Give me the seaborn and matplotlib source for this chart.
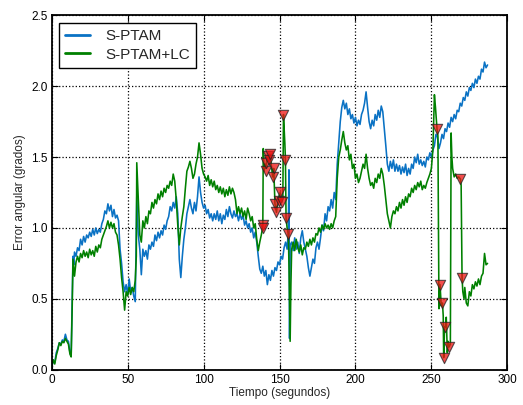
import numpy as np
import pandas as pd
import matplotlib
matplotlib.use("Agg")
import matplotlib.pyplot as plt
import seaborn as sns

# S-PTAM angular error (degrees) over time (seconds)
sptam_t = [0, 1, 2, 3, 4, 5, 6, 7, 8, 9, 10, 11, 12, 12.8, 13.5, 14, 14.5, 15, 16, 17, 18, 19, 20,
           21, 22, 23, 24, 25, 26, 27, 28, 29, 30, 31, 32, 33, 34, 35, 36, 37, 38, 39, 40, 41, 42,
           43, 44, 45, 46, 47, 48, 49, 50, 51, 52, 53, 54, 55, 56, 57, 58, 59, 60, 61, 62, 63, 64,
           65, 66, 67, 68, 69, 70, 71, 72, 73, 74, 75, 76, 77, 78, 79, 80, 81, 82, 83, 84, 85, 86,
           87, 88, 89, 90, 91, 92, 93, 94, 95, 96, 97, 98, 99, 100, 101, 102, 103, 104, 105, 106,
           107, 108, 109, 110, 111, 112, 113, 114, 115, 116, 117, 118, 119, 120, 121, 122, 123,
           124, 125, 126, 127, 128, 129, 130, 131, 132, 133, 134, 135, 136, 137, 138, 139, 140,
           141, 142, 143, 144, 145, 146, 147, 148, 149, 150, 151, 152, 153, 154, 155, 155.8,
           156.2, 156.6, 157, 158, 159, 160, 161, 162, 163, 164, 165, 166, 167, 168, 169, 170,
           171, 172, 173, 174, 175, 176, 177, 178, 179, 180, 181, 182, 183, 184, 185, 186, 187,
           188, 189, 190, 191, 192, 193, 194, 195, 196, 197, 198, 199, 200, 201, 202, 203, 204,
           205, 206, 207, 208, 209, 210, 211, 212, 213, 214, 215, 216, 217, 218, 219, 220, 221,
           222, 223, 224, 225, 226, 227, 228, 229, 230, 231, 232, 233, 234, 235, 236, 237, 238,
           239, 240, 241, 242, 243, 244, 245, 246, 247, 248, 249, 250, 251, 252, 253, 254, 255,
           256, 257, 258, 259, 260, 261, 262, 263, 264, 265, 266, 267, 268, 269, 270, 271, 272,
           273, 274, 275, 276, 277, 278, 279, 280, 281, 282, 283, 284, 285, 286, 287]
sptam_err = [0.02, 0.06, 0.05, 0.12, 0.15, 0.19, 0.18, 0.21, 0.20, 0.25, 0.21, 0.20, 0.12, 0.10,
             0.50, 0.80, 0.74, 0.83, 0.80, 0.86, 0.84, 0.92, 0.88, 0.94, 0.90, 0.95, 0.93, 0.97,
             0.94, 0.99, 0.95, 1.00, 0.96, 0.99, 0.97, 1.03, 1.06, 1.12, 1.10, 1.17, 1.12, 1.16,
             1.08, 1.13, 1.07, 1.09, 1.05, 0.85, 0.75, 0.62, 0.55, 0.60, 0.53, 0.64, 0.55, 0.58,
             0.52, 0.48, 1.22, 0.95, 0.85, 0.67, 0.85, 0.80, 0.84, 0.78, 0.88, 0.85, 0.90, 0.87,
             0.95, 0.91, 0.97, 0.93, 0.98, 0.95, 1.02, 0.99, 1.05, 1.08, 1.15, 1.12, 1.18, 1.14,
             1.22, 1.10, 0.78, 0.65, 0.80, 0.92, 1.00, 1.10, 1.15, 1.20, 1.14, 1.10, 1.18, 1.12,
             1.22, 1.36, 1.25, 1.18, 1.14, 1.16, 1.10, 1.13, 1.07, 1.10, 1.05, 1.10, 1.06, 1.12,
             1.05, 1.10, 1.03, 1.09, 1.06, 1.13, 1.08, 1.15, 1.10, 1.07, 1.12, 1.08, 1.10, 1.05,
             1.10, 1.06, 1.09, 1.02, 1.05, 1.00, 1.03, 0.97, 1.00, 0.93, 0.97, 0.90, 0.80, 0.71,
             0.68, 0.73, 0.66, 0.70, 0.60, 0.67, 0.63, 0.70, 0.66, 0.72, 0.70, 0.76, 0.74, 0.80,
             0.78, 0.86, 0.90, 0.85, 0.98, 1.41, 0.22, 0.88, 0.90, 0.84, 0.93, 0.85, 0.90, 0.82,
             0.93, 0.98, 0.90, 0.85, 0.80, 0.72, 0.66, 0.72, 0.78, 0.75, 0.86, 0.90, 0.85, 0.93,
             1.02, 0.98, 1.10, 1.05, 1.15, 1.12, 1.20, 1.14, 1.25, 1.20, 1.45, 1.60, 1.75, 1.85,
             1.90, 1.84, 1.88, 1.80, 1.84, 1.77, 1.80, 1.74, 1.78, 1.72, 1.76, 1.73, 1.80, 1.83,
             1.88, 1.96, 1.85, 1.75, 1.70, 1.76, 1.72, 1.80, 1.76, 1.83, 1.78, 1.86, 1.82, 1.70,
             1.58, 1.45, 1.40, 1.47, 1.42, 1.48, 1.40, 1.45, 1.40, 1.44, 1.38, 1.43, 1.39, 1.45,
             1.37, 1.42, 1.38, 1.45, 1.42, 1.50, 1.46, 1.52, 1.45, 1.48, 1.44, 1.47, 1.43, 1.50,
             1.48, 1.53, 1.50, 1.55, 1.58, 1.66, 1.64, 1.56, 1.60, 1.66, 1.63, 1.70, 1.68, 1.74,
             1.71, 1.78, 1.75, 1.80, 1.77, 1.83, 1.82, 1.88, 1.86, 1.92, 1.90, 1.96, 1.93, 1.99,
             1.97, 2.02, 1.99, 2.05, 2.02, 2.07, 2.05, 2.12, 2.10, 2.17, 2.13, 2.15]

# S-PTAM + loop closure angular error (degrees) over time (seconds)
lc_t = [0, 1, 2, 3, 4, 5, 6, 7, 8, 9, 10, 11, 12, 12.8, 13.5, 14, 14.5, 15, 16, 17, 18, 19, 20, 21,
        22, 23, 24, 25, 26, 27, 28, 29, 30, 31, 32, 33, 34, 35, 36, 37, 38, 39, 40, 41, 42, 43,
        44, 45, 46, 47, 48, 49, 50, 51, 52, 53, 54, 55, 55.7, 56, 57, 58, 59, 60, 61, 62, 63, 64,
        65, 66, 67, 68, 69, 70, 71, 72, 73, 74, 75, 76, 77, 78, 79, 80, 81, 82, 83, 84, 85, 86,
        87, 88, 89, 90, 91, 92, 93, 94, 95, 96, 97, 98, 99, 100, 101, 102, 103, 104, 105, 106,
        107, 108, 109, 110, 111, 112, 113, 114, 115, 116, 117, 118, 119, 120, 121, 122, 123,
        124, 125, 126, 127, 128, 129, 130, 131, 132, 133, 134, 135, 136, 137, 138, 139, 139.3,
        139.8, 140.5, 141, 142, 143, 143.8, 144.5, 145.5, 146.2, 147, 148, 149, 150.4, 151.4,
        152.2, 152.6, 153.5, 153.9, 154.3, 155, 155.8, 156.3, 157, 157.5, 158, 159, 160, 161,
        162, 163, 164, 165, 166, 167, 168, 169, 170, 171, 172, 173, 174, 175, 176, 177, 178,
        179, 180, 181, 182, 183, 184, 185, 186, 187, 188, 189, 190, 191, 192, 193, 194, 195,
        196, 197, 198, 199, 200, 201, 202, 203, 204, 205, 206, 207, 208, 209, 210, 211, 212,
        213, 214, 215, 216, 217, 218, 219, 220, 221, 222, 223, 224, 225, 226, 227, 228, 229,
        230, 231, 232, 233, 234, 235, 236, 237, 238, 239, 240, 241, 242, 243, 244, 245, 246,
        247, 248, 249, 250, 251, 252, 252.7, 253.7, 254.3, 255, 255.7, 256.5, 257.3, 257.8,
        258.1, 258.7, 259.2, 259.8, 260.5, 261, 261.6, 262.5, 263, 263.5, 264, 265, 266, 267,
        268, 269.1, 269.6, 270.2, 270.7, 271.5, 272, 273, 274, 275, 276, 277, 278, 279, 280,
        281, 282, 283, 284, 285, 286, 287]
lc_err = [0.02, 0.07, 0.04, 0.10, 0.14, 0.19, 0.17, 0.20, 0.19, 0.22, 0.20, 0.18, 0.11, 0.09, 0.45,
          0.78, 0.72, 0.66, 0.76, 0.80, 0.76, 0.82, 0.79, 0.84, 0.80, 0.83, 0.79, 0.85, 0.81, 0.84,
          0.80, 0.87, 0.83, 0.88, 0.86, 0.92, 0.95, 0.98, 1.01, 1.05, 1.00, 1.04, 1.00, 1.03, 0.97,
          0.95, 0.88, 0.78, 0.65, 0.55, 0.42, 0.55, 0.52, 0.58, 0.53, 0.58, 0.55, 0.63, 0.80, 1.46,
          1.20, 0.95, 0.90, 1.05, 1.00, 1.08, 1.03, 1.12, 1.10, 1.18, 1.14, 1.20, 1.17, 1.24, 1.20,
          1.26, 1.22, 1.28, 1.25, 1.30, 1.28, 1.33, 1.30, 1.38, 1.33, 1.20, 1.02, 0.88, 1.00, 1.08,
          1.15, 1.28, 1.40, 1.43, 1.47, 1.42, 1.35, 1.38, 1.45, 1.50, 1.60, 1.52, 1.42, 1.38, 1.36,
          1.33, 1.37, 1.30, 1.34, 1.29, 1.33, 1.27, 1.30, 1.25, 1.29, 1.24, 1.28, 1.22, 1.27, 1.23,
          1.29, 1.24, 1.28, 1.25, 1.20, 1.10, 1.15, 1.10, 1.14, 1.08, 1.12, 1.06, 1.14, 1.10, 1.05,
          1.08, 1.00, 1.03, 0.92, 0.84, 0.90, 0.95, 1.01, 1.56, 1.40, 1.45, 1.42, 1.51, 1.48, 1.52,
          1.45, 1.36, 1.42, 1.17, 1.11, 1.20, 1.25, 1.18, 1.22, 1.80, 1.60, 1.48, 1.07, 1.00, 0.96,
          0.70, 0.20, 0.60, 0.85, 0.90, 0.84, 0.92, 0.86, 0.83, 0.88, 0.81, 0.86, 0.85, 0.90, 0.87,
          0.92, 0.88, 0.93, 0.90, 0.96, 0.95, 1.00, 0.97, 1.02, 0.99, 1.03, 1.00, 1.02, 0.99, 1.03,
          1.00, 1.05, 1.08, 1.35, 1.50, 1.55, 1.62, 1.68, 1.60, 1.55, 1.58, 1.48, 1.52, 1.42, 1.45,
          1.35, 1.38, 1.32, 1.35, 1.40, 1.45, 1.42, 1.52, 1.42, 1.35, 1.30, 1.32, 1.28, 1.35, 1.32,
          1.38, 1.35, 1.42, 1.38, 1.30, 1.20, 1.10, 1.05, 1.00, 1.08, 1.12, 1.10, 1.15, 1.12, 1.18,
          1.14, 1.20, 1.16, 1.22, 1.18, 1.24, 1.22, 1.28, 1.25, 1.30, 1.27, 1.32, 1.29, 1.33, 1.27,
          1.30, 1.28, 1.32, 1.35, 1.38, 1.42, 1.55, 1.94, 1.85, 1.70, 1.65, 0.43, 0.60, 0.45, 0.47,
          0.38, 0.085, 0.30, 0.30, 0.37, 0.12, 0.20, 0.16, 0.18, 1.67, 1.50, 1.42, 1.36, 1.38, 1.35,
          1.36, 1.345, 1.30, 0.65, 0.55, 0.50, 0.58, 0.47, 0.45, 0.55, 0.52, 0.60, 0.57, 0.62, 0.59,
          0.64, 0.60, 0.66, 0.68, 0.82, 0.74, 0.75]

# Detected loop closures (time, error after correction)
loop_t = [138.9, 139.4, 140.9, 141.2, 142.2, 143.3, 143.8, 145.5, 146.2, 147.0, 148.0, 149.8,
          150.4, 151.4, 152.5, 153.9, 154.3, 155.8, 253.7, 255.7, 257.3, 258.1, 259.2, 261.6,
          269.1, 270.2]
loop_err = [1.02, 1.00, 1.40, 1.46, 1.51, 1.48, 1.52, 1.36, 1.42, 1.17, 1.11, 1.19, 1.25, 1.18,
            1.80, 1.48, 1.07, 0.96, 1.70, 0.60, 0.47, 0.085, 0.30, 0.16, 1.345, 0.65]

series_names = ["S-PTAM", "S-PTAM+LC"]
x_ticks = [0, 50, 100, 150, 200, 250, 300]
y_ticks = [0.0, 0.5, 1.0, 1.5, 2.0, 2.5]

sns.set_style("ticks")
plt.rcParams["font.family"] = ["Liberation Sans", "DejaVu Sans"]

sptam_df = pd.DataFrame({"t": sptam_t, "err": sptam_err})
lc_df = pd.DataFrame({"t": lc_t, "err": lc_err})
loop_df = pd.DataFrame({"t": loop_t, "err": loop_err})

fig = plt.figure(figsize=(5.23, 4.05), dpi=100)
ax = fig.add_axes([0.0989, 0.0872, 0.8711, 0.8750])

blue = "#0a72c4"
green = "#008000"

sns.lineplot(data=sptam_df, x="t", y="err", ax=ax, color=blue, linewidth=1.15,
             estimator=None, sort=False)
sns.lineplot(data=lc_df, x="t", y="err", ax=ax, color=green, linewidth=1.15,
             estimator=None, sort=False)
sns.scatterplot(data=loop_df, x="t", y="err", ax=ax, marker="v", s=55, color="#ee1111",
                edgecolor="#222222", linewidth=0.8, alpha=0.75, zorder=5)

ax.set_xlim(0, 300)
ax.set_ylim(0, 2.5)
ax.set_xticks(x_ticks)
ax.set_yticks(y_ticks)
ax.set_xticklabels([str(v) for v in x_ticks])
ax.set_yticklabels([f"{v:.1f}" for v in y_ticks])
ax.tick_params(direction="in", top=True, right=True, length=4, width=0.8,
               labelsize=8.5, colors="black", pad=3)
ax.grid(True, linestyle=":", color="black", linewidth=0.9)
for sp in ax.spines.values():
    sp.set_color("black")
    sp.set_linewidth(1.3)

ax.set_xlabel("Tiempo (segundos)", fontsize=8.5, labelpad=1)
ax.set_ylabel("Error angular (grados)", fontsize=8.5, labelpad=4)

handles = [plt.Line2D([], [], color=blue, linewidth=2.0),
           plt.Line2D([], [], color=green, linewidth=2.0)]
leg = ax.legend(handles, series_names, loc="upper left", fontsize=11, frameon=True,
                fancybox=False, edgecolor="black", framealpha=1.0,
                handlelength=1.6, handletextpad=1.0, borderpad=0.4, labelspacing=0.3,
                borderaxespad=0.5)
leg.get_frame().set_linewidth(1.0)

fig.savefig("out.png", dpi=100)
